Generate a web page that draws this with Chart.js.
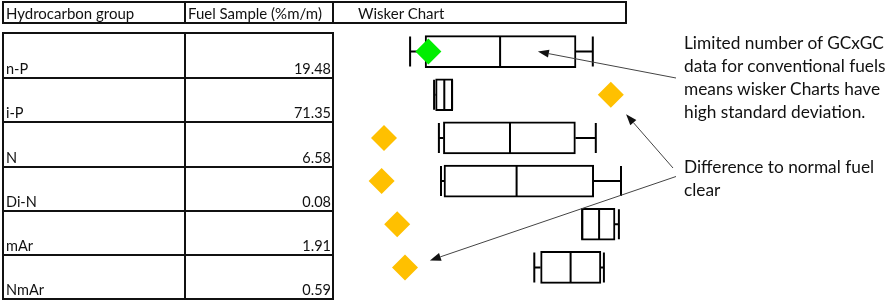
<!DOCTYPE html>
<html lang="en">
<head>
<meta charset="UTF-8">
<title>Hydrocarbon group - wisker chart</title>
<script src="https://cdn.jsdelivr.net/npm/chart.js"></script>
<style>
  body { margin: 0; background: #fff; font-family: Lato, "Noto Sans", sans-serif; color: #111; }
  #wrap { position: relative; width: 892px; height: 302px; overflow: hidden; }
  #chart { position: absolute; left: 0; top: 0; }
  .cell {
    position: absolute; box-sizing: border-box; border: 2px solid #111;
    display: flex; white-space: nowrap; font-size: 14.5px; line-height: 14px;
  }
  .head { align-items: center; font-size: 15px; }
  .body { align-items: flex-end; padding-bottom: 1px; }
  .num { justify-content: flex-end; padding-right: 1px; }
  .note { position: absolute; left: 684px; font-size: 17.3px; line-height: 22.9px; white-space: nowrap; }
</style>
</head>
<body>
<div id="wrap">
  <canvas id="chart" width="892" height="302"></canvas>
  <div id="table"></div>
  <div class="note" style="top:32px">Limited number of GCxGC<br>data for conventional fuels<br>means wisker Charts have<br>high standard deviation.</div>
  <div class="note" style="top:156px">Difference to normal fuel<br>clear</div>
</div>

<script>
const headers = ["Hydrocarbon group", "Fuel Sample (%m/m)", "Wisker Chart"];
const categories = ["n-P", "i-P", "N", "Di-N", "mAr", "NmAr"];
const fuelSample = ["19.48", "71.35", "6.58", "0.08", "1.91", "0.59"];

// whisker chart values on a relative 0-100 position scale (no axis shown)
const whiskerMin = [25.7, 33.7, 35.3, 36.0, 83.1, 67.1];
const q1 = [30.7, 34.2, 36.8, 37.0, 82.8, 69.2];
const median = [55.7, 37.1, 59.0, 61.2, 88.7, 79.2];
const q3 = [81.0, 39.9, 80.8, 86.9, 94.0, 89.3];
const whiskerMax = [86.6, 39.7, 87.6, 96.0, 95.3, 90.3];
const sampleMark = [31.8, 92.6, 17.0, 16.2, 21.4, 24.0];
const markColors = ["#00ee00", "#ffc000", "#ffc000", "#ffc000", "#ffc000", "#ffc000"];

// table
const table = document.getElementById("table");
function addCell(text, left, top, w, h, cls, style) {
  const d = document.createElement("div");
  d.className = "cell " + cls;
  d.style.left = left + "px"; d.style.top = top + "px";
  d.style.width = w + "px"; d.style.height = h + "px";
  if (style) d.style.cssText += style;
  d.textContent = text;
  table.appendChild(d);
}
addCell(headers[0], 2, 1, 184, 23, "head", "padding-left:2px");
addCell(headers[1], 184, 1, 150, 23, "head", "padding-left:2px");
addCell(headers[2], 332, 1, 295, 23, "head", "padding-left:24px");

const rowLines = [33, 77.5, 122, 166.5, 211, 255, 299];
categories.forEach((c, i) => {
  const top = rowLines[i] - 1;
  const h = rowLines[i + 1] - rowLines[i] + 2;
  addCell(c, 2, top, 184, h, "body", "padding-left:2px");
  addCell(fuelSample[i], 184, top, 150, h, "body num");
});

// whiskers + median drawn through the scales
const whiskerPlugin = {
  id: "whiskers",
  afterDatasetDraw(chart, args) {
    if (args.index !== 0) return;
    const { ctx, scales: { x } } = chart;
    ctx.save();
    ctx.strokeStyle = "#000";
    ctx.lineWidth = 2;
    args.meta.data.forEach((bar, i) => {
      const cy = bar.y, half = bar.height / 2;
      const top = cy - half + 1, bot = cy + half - 1;
      const xMin = x.getPixelForValue(whiskerMin[i]);
      const xMax = x.getPixelForValue(whiskerMax[i]);
      const xQ1 = x.getPixelForValue(q1[i]);
      const xQ3 = x.getPixelForValue(q3[i]);
      const xMed = x.getPixelForValue(median[i]);
      ctx.beginPath();
      ctx.moveTo(xMin, top); ctx.lineTo(xMin, bot);
      ctx.moveTo(xMin, cy); ctx.lineTo(xQ1, cy);
      ctx.moveTo(xMax, top); ctx.lineTo(xMax, bot);
      ctx.moveTo(xQ3, cy); ctx.lineTo(xMax, cy);
      ctx.moveTo(xMed, top); ctx.lineTo(xMed, bot);
      ctx.stroke();
    });
    ctx.restore();
  }
};

// callout arrows: tail at the note text, head in data coordinates
const arrows = [
  { from: [676, 78], x: 68.3, row: 0, dy: 0 },
  { from: [673, 168], x: 97.7, row: 1, dy: 19.5 },
  { from: [676, 176.5], x: 32.3, row: 5, dy: -7 }
];
const arrowPlugin = {
  id: "arrows",
  afterDraw(chart) {
    const { ctx, scales: { x, y } } = chart;
    ctx.save();
    ctx.strokeStyle = "#444";
    ctx.fillStyle = "#111";
    ctx.lineWidth = 1;
    arrows.forEach(a => {
      const hx = x.getPixelForValue(a.x);
      const hy = y.getPixelForValue(a.row) + a.dy;
      const [tx, ty] = a.from;
      const ang = Math.atan2(hy - ty, hx - tx);
      const len = 11, wid = 4;
      const bx = hx - len * Math.cos(ang), by = hy - len * Math.sin(ang);
      ctx.beginPath();
      ctx.moveTo(tx, ty); ctx.lineTo(bx, by);
      ctx.stroke();
      ctx.beginPath();
      ctx.moveTo(hx, hy);
      ctx.lineTo(bx + wid * Math.sin(ang), by - wid * Math.cos(ang));
      ctx.lineTo(bx - wid * Math.sin(ang), by + wid * Math.cos(ang));
      ctx.closePath();
      ctx.fill();
    });
    ctx.restore();
  }
};

new Chart(document.getElementById("chart"), {
  type: "bar",
  data: {
    labels: categories,
    datasets: [
      {
        label: "Box",
        data: categories.map((c, i) => [q1[i], q3[i]]),
        backgroundColor: "#fff",
        borderColor: "#000",
        borderWidth: 2,
        borderSkipped: false,
        barThickness: 32,
        order: 1
      },
      {
        type: "line",
        label: "Fuel sample",
        data: sampleMark,
        showLine: false,
        pointStyle: "rectRot",
        pointRadius: 13,
        pointHoverRadius: 13,
        pointBackgroundColor: markColors,
        pointBorderWidth: 0,
        order: 0
      }
    ]
  },
  options: {
    indexAxis: "y",
    responsive: false,
    animation: false,
    layout: { padding: { left: 333, right: 259, top: 30, bottom: 6 } },
    scales: {
      x: { type: "linear", min: 0, max: 100, display: false },
      y: { type: "category", display: false, offset: true }
    },
    plugins: { legend: { display: false }, tooltip: { enabled: false } }
  },
  plugins: [whiskerPlugin, arrowPlugin]
});
</script>
</body>
</html>
